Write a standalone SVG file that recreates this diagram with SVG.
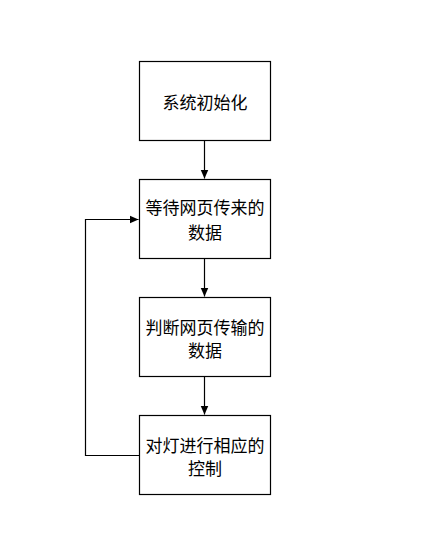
<svg xmlns="http://www.w3.org/2000/svg" width="433" height="552" viewBox="0 0 433 552">
<style>
.box{fill:#fff;stroke:#000;stroke-width:1.2}
.t{font-family:"Noto Sans CJK SC","Liberation Sans",sans-serif;font-size:17px;fill:#000;text-anchor:middle;dominant-baseline:central}
.c{fill:none;stroke:#000;stroke-width:1.2}
</style>
<defs>
<marker id="ah" markerWidth="10" markerHeight="10" refX="9" refY="5" orient="auto" markerUnits="userSpaceOnUse">
<path d="M0,1 L9,5 L0,9 Z" fill="#000"/>
</marker>
</defs>
<rect width="433" height="552" fill="#fff"/>
<g id="n1"><rect class="box" x="139.5" y="61.5" width="131" height="79"/><text class="t" x="205" y="101.5">系统初始化</text></g>
<g id="n2"><rect class="box" x="139.5" y="179.5" width="131" height="79"/><text class="t" x="205" y="206">等待网页传来的</text><text class="t" x="205" y="231">数据</text></g>
<g id="n3"><rect class="box" x="139.5" y="297.5" width="131" height="79"/><text class="t" x="205" y="326">判断网页传输的</text><text class="t" x="205" y="349.5">数据</text></g>
<g id="n4"><rect class="box" x="139.5" y="415.5" width="131" height="79"/><text class="t" x="205" y="444.5">对灯进行相应的</text><text class="t" x="205" y="467.5">控制</text></g>
<g id="connectors">
<path class="c" d="M204.5,140.5 V178.5" marker-end="url(#ah)"/>
<path class="c" d="M204.5,258.5 V296.5" marker-end="url(#ah)"/>
<path class="c" d="M204.5,376.5 V414.5" marker-end="url(#ah)"/>
<path class="c" d="M139.5,455.5 H85.5 V219.5 H138.5" marker-end="url(#ah)"/>
</g>
</svg>
